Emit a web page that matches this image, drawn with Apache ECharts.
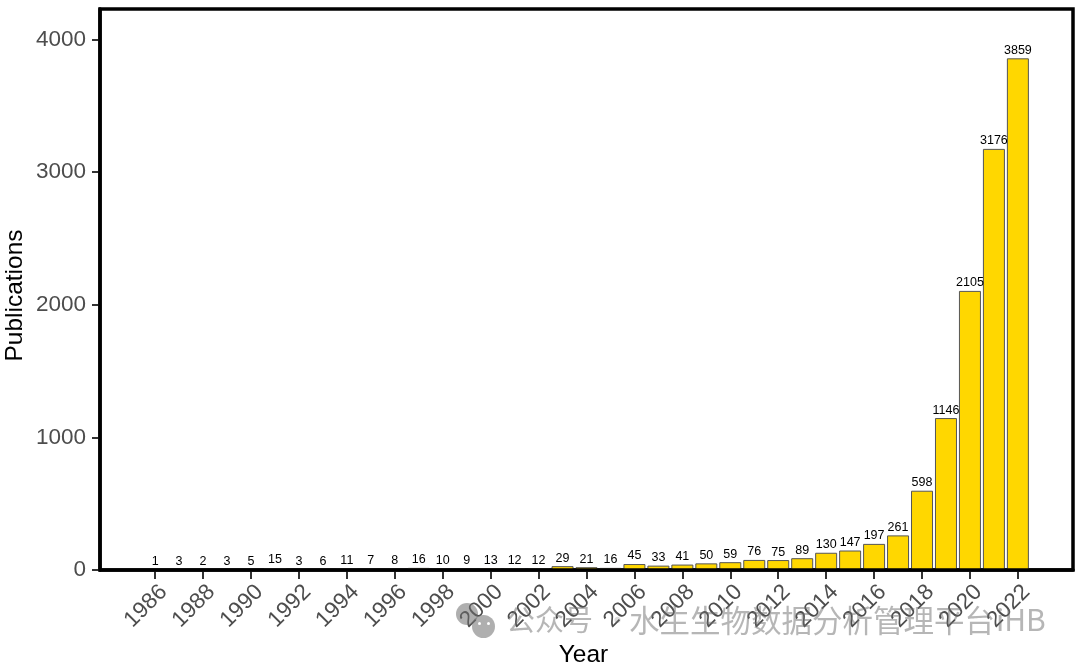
<!DOCTYPE html>
<html><head><meta charset="utf-8">
<style>html,body{margin:0;padding:0;background:#fff}#c{width:1080px;height:665px}</style>
<script src="https://cdn.jsdelivr.net/npm/echarts@6/dist/echarts.min.js"></script>
</head><body><div id="c"></div>
<script>
const years = [1986,1987,1988,1989,1990,1991,1992,1993,1994,1995,1996,1997,1998,1999,2000,2001,2002,2003,2004,2005,2006,2007,2008,2009,2010,2011,2012,2013,2014,2015,2016,2017,2018,2019,2020,2021,2022];
const publications = [1,3,2,3,5,15,3,6,11,7,8,16,10,9,13,12,12,29,21,16,45,33,41,50,59,76,75,89,130,147,197,261,598,1146,2105,3176,3859];
const xTicks = [1986,1988,1990,1992,1994,1996,1998,2000,2002,2004,2006,2008,2010,2012,2014,2016,2018,2020,2022];
const yTicks = [0,1000,2000,3000,4000];
const FONT = '"Liberation Sans", Arial, sans-serif';
const WM = 'rgba(110,110,110,0.5)';
const CJK = '"Noto Sans CJK SC", sans-serif';
const chart = echarts.init(document.getElementById('c'), null, {renderer:'canvas'});
chart.setOption({
  animation:false,
  backgroundColor:'#fff',
  grid:{left:100,right:7,top:9,bottom:95,containLabel:false,outerBoundsMode:'none',show:true,borderColor:'#000',borderWidth:3.5,backgroundColor:'transparent',z:5},
  xAxis:{type:'value',min:1983.7,max:2024.3,
    name:'Year',nameLocation:'middle',nameGap:73,nameMoveOverlap:false,nameTextStyle:{fontFamily:FONT,fontSize:24.5,color:'#000',padding:[0,6,0,0]},
    splitLine:{show:false},
    axisLine:{show:true,onZero:false,lineStyle:{color:'#000',width:3.5}},
    axisTick:{show:true,customValues:xTicks,length:9,lineStyle:{color:'#333',width:2}},
    axisLabel:{customValues:xTicks,rotate:45,margin:27,align:'center',verticalAlign:'middle',padding:[0,26,0,0],hideOverlap:false,fontFamily:FONT,fontSize:22.5,color:'#4d4d4d',formatter:v=>String(v)}
  },
  yAxis:{type:'value',min:0,max:4231,
    name:'Publications',nameLocation:'middle',nameGap:72,nameMoveOverlap:false,nameTextStyle:{fontFamily:FONT,fontSize:24.5,color:'#000',padding:[0,12,0,0]},
    splitLine:{show:false},
    axisLine:{show:true,lineStyle:{color:'#000',width:3.5}},
    axisTick:{show:true,customValues:yTicks,length:8,lineStyle:{color:'#333',width:2}},
    axisLabel:{customValues:yTicks,margin:14,hideOverlap:false,fontFamily:FONT,fontSize:22.5,color:'#4d4d4d',formatter:v=>String(v)}
  },
  series:[{type:'bar',barWidth:22,
    data:years.map((y,i)=>[y,publications[i]]),
    itemStyle:{color:'#FFD700',borderColor:'#555',borderWidth:1},
    label:{show:true,position:'top',distance:1.5,fontFamily:FONT,fontSize:12.5,color:'#000',formatter:p=>String(p.value[1])},
    labelLayout:{hideOverlap:false}
  }],
  graphic:[
    {type:'circle',left:456,top:603,shape:{r:11},style:{fill:'rgba(110,110,110,0.55)'},z:50},
    {type:'circle',left:472,top:615,shape:{r:11.5},style:{fill:'rgba(110,110,110,0.55)'},z:50},
    {type:'circle',left:478,top:622,shape:{r:1.5},style:{fill:'#fff'},z:51},
    {type:'circle',left:487,top:622,shape:{r:1.5},style:{fill:'#fff'},z:51},
    {type:'text',left:506,top:605,z:50,style:{text:'公众号',fontFamily:CJK,fontSize:29,fill:WM}},
    {type:'text',left:603,top:605,z:50,style:{text:'·',fontFamily:CJK,fontSize:29,fill:'rgba(110,110,110,0.25)'}},
    {type:'text',left:629,top:605,z:50,style:{text:'水生生物数据分析管理平台',fontFamily:CJK,fontSize:30.5,fill:WM}},
    {type:'text',left:996,top:605,z:50,style:{text:'iHB',fontFamily:CJK,fontSize:30,fill:WM}}
  ]
});
</script></body></html>
